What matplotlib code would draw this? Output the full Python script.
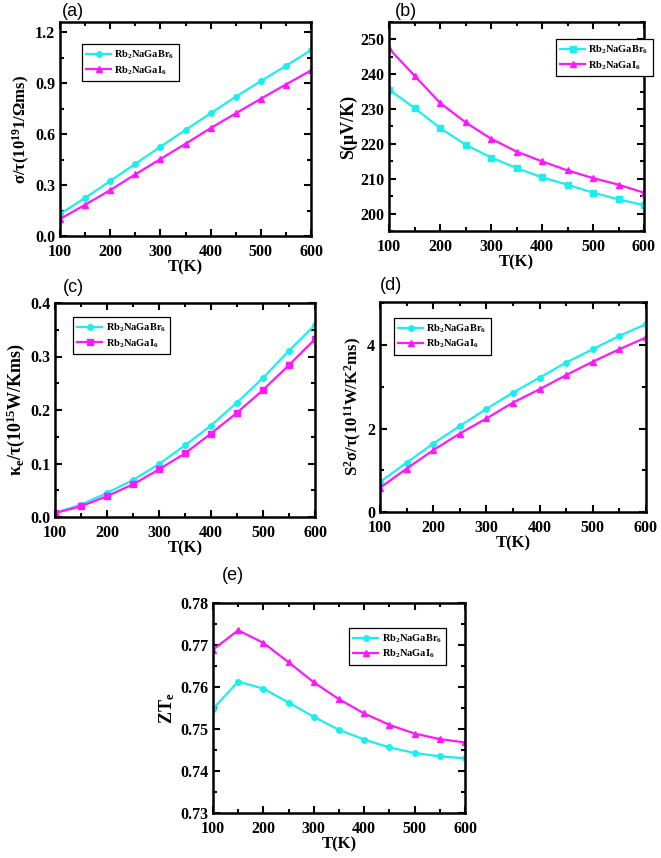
import matplotlib
matplotlib.use("Agg")
import matplotlib.pyplot as plt
from matplotlib.ticker import MultipleLocator, FormatStrFormatter
from matplotlib.font_manager import FontProperties, findfont

plt.rcParams['font.family'] = 'Liberation Serif'
plt.rcParams['font.weight'] = 'bold'
plt.rcParams['mathtext.fontset'] = 'custom'
plt.rcParams['mathtext.rm'] = 'Liberation Serif:bold'
plt.rcParams['mathtext.it'] = 'Liberation Serif:bold'
plt.rcParams['mathtext.bf'] = 'Liberation Serif:bold'
plt.rcParams['mathtext.default'] = 'rm'

# Datos
T = [100, 150, 200, 250, 300, 350, 400, 450, 500, 550, 600]

sigma_br = [0.13, 0.224, 0.324, 0.425, 0.525, 0.625, 0.722, 0.82, 0.912, 1.002, 1.094]
sigma_i = [0.10, 0.184, 0.27, 0.363, 0.453, 0.543, 0.635, 0.722, 0.808, 0.892, 0.975]

seebeck_br = [235.6, 230.3, 224.6, 219.8, 216.1, 213.1, 210.4, 208.3, 206.0, 204.1, 202.4]
seebeck_i = [247.4, 239.6, 231.8, 226.2, 221.5, 217.8, 215.0, 212.4, 210.2, 208.3, 206.0]

kappa_br = [0.0075, 0.023, 0.045, 0.069, 0.099, 0.134, 0.171, 0.214, 0.26, 0.311, 0.359]
kappa_i = [0.0075, 0.02, 0.039, 0.061, 0.089, 0.119, 0.156, 0.195, 0.2375, 0.284, 0.3325]

pf_br = [0.72, 1.18, 1.64, 2.06, 2.47, 2.86, 3.22, 3.58, 3.90, 4.22, 4.50]
pf_i = [0.58, 1.04, 1.48, 1.88, 2.24, 2.62, 2.94, 3.28, 3.60, 3.90, 4.18]

zt_br = [0.7548, 0.7613, 0.7596, 0.7563, 0.7529, 0.7498, 0.7475, 0.7456, 0.7443, 0.7435, 0.7430]
zt_i = [0.7689, 0.7735, 0.7705, 0.7659, 0.7611, 0.7571, 0.7537, 0.7510, 0.7489, 0.7476, 0.7468]

lbl_br = r'Rb$_2$NaGaBr$_6$'
lbl_i = r'Rb$_2$NaGaI$_6$'
cyan = '#1CEEEE'
magenta = '#FF17FF'

# archivo de la fuente en negrita para los ticks
ruta_negrita = findfont(FontProperties(family='Liberation Serif', weight='bold'))

W, H = 661, 858
fig = plt.figure(figsize=(W / 100, H / 100), dpi=100)
ejes = []


def caja(x0, y0, x1, y1):
    # pixeles -> fraccion de figura
    return [x0 / W, 1 - y1 / H, (x1 - x0) / W, (y1 - y0) / H]


def panel(rect, y_br, y_i, m_br, m_i, ylim, ymaj, ymin, ylabel, etiqueta, pos_et, leg_pos,
          ylsize=13):
    ax = fig.add_axes(caja(*rect))
    ax.plot(T, y_br, color=cyan, marker=m_br, ms=4, lw=1.6, label=lbl_br)
    ax.plot(T, y_i, color=magenta, marker=m_i, ms=4.5, lw=1.6, label=lbl_i)
    ax.set_xlim(100, 600)
    ax.set_ylim(*ylim)
    ax.xaxis.set_major_locator(MultipleLocator(100))
    ax.xaxis.set_minor_locator(MultipleLocator(50))
    ax.yaxis.set_major_locator(MultipleLocator(ymaj))
    ax.yaxis.set_minor_locator(MultipleLocator(ymin))
    ax.tick_params(which='both', direction='in', top=True, right=True, width=1.5,
                   labelsize=11.5)
    ax.tick_params(axis='x', pad=6)
    ax.tick_params(which='major', length=5)
    ax.tick_params(which='minor', length=3)
    for s in ax.spines.values():
        s.set_linewidth(1.8)
    ax.set_xlabel('T(K)', fontsize=12, fontweight='bold', labelpad=-1)
    ax.set_ylabel(ylabel, fontsize=ylsize, fontweight='bold', labelpad=2)
    fig.text(pos_et[0] / W, 1 - pos_et[1] / H, etiqueta, family='Liberation Sans',
             weight='normal', fontsize=13, va='center')
    leg = ax.legend(loc='upper left', bbox_to_anchor=(leg_pos[0] / W, 1 - leg_pos[1] / H),
                    bbox_transform=fig.transFigure, fontsize=7.5, frameon=True,
                    fancybox=False, edgecolor='black', framealpha=1, handlelength=2.4,
                    borderpad=0.4, labelspacing=0.3, handletextpad=0.3)
    leg.get_frame().set_linewidth(0.9)
    for t in leg.get_texts():
        t.set_fontweight('bold')
    ejes.append(ax)
    return ax


axa = panel((60, 22, 311, 236), sigma_br, sigma_i, 'o', '^', (0, 1.26), 0.3, 0.15,
            r'σ/τ(10$^{19}$1/Ωms)', '(a)', (62, 12), (77, 39), ylsize=12)
axa.yaxis.set_major_formatter(FormatStrFormatter('%.1f'))

axb = panel((389, 22, 644, 231), seebeck_br, seebeck_i, 's', '^', (195, 255), 10, 5,
            r'S(μV/K)', '(b)', (395, 12), (551, 34))

axc = panel((55, 303, 315, 517), kappa_br, kappa_i, 'o', 's', (0, 0.4), 0.1, 0.05,
            r'κ$_e$/τ(10$^{15}$W/Kms)', '(c)', (63, 287), (68, 312))

axd = panel((380, 302, 646, 512), pf_br, pf_i, 'o', '^', (0, 5.03), 2, 1,
            r'S$^2$σ/τ(10$^{11}$W/K$^2$ms)', '(d)', (380, 285), (389, 313), ylsize=12)

axe = panel((213, 603, 465, 813), zt_br, zt_i, 'o', '^', (0.73, 0.78), 0.01, 0.005,
            r'ZT$_e$', '(e)', (222, 575), (344, 623))
axe.yaxis.set_major_formatter(FormatStrFormatter('%.2f'))

# etiquetas de los ticks en negrita (por archivo de fuente)
fig.canvas.draw()
for ax in ejes:
    for t in ax.get_xticklabels() + ax.get_yticklabels():
        t.set_fontproperties(FontProperties(fname=ruta_negrita, size=11.5))

fig.savefig('out.png', dpi=100)
